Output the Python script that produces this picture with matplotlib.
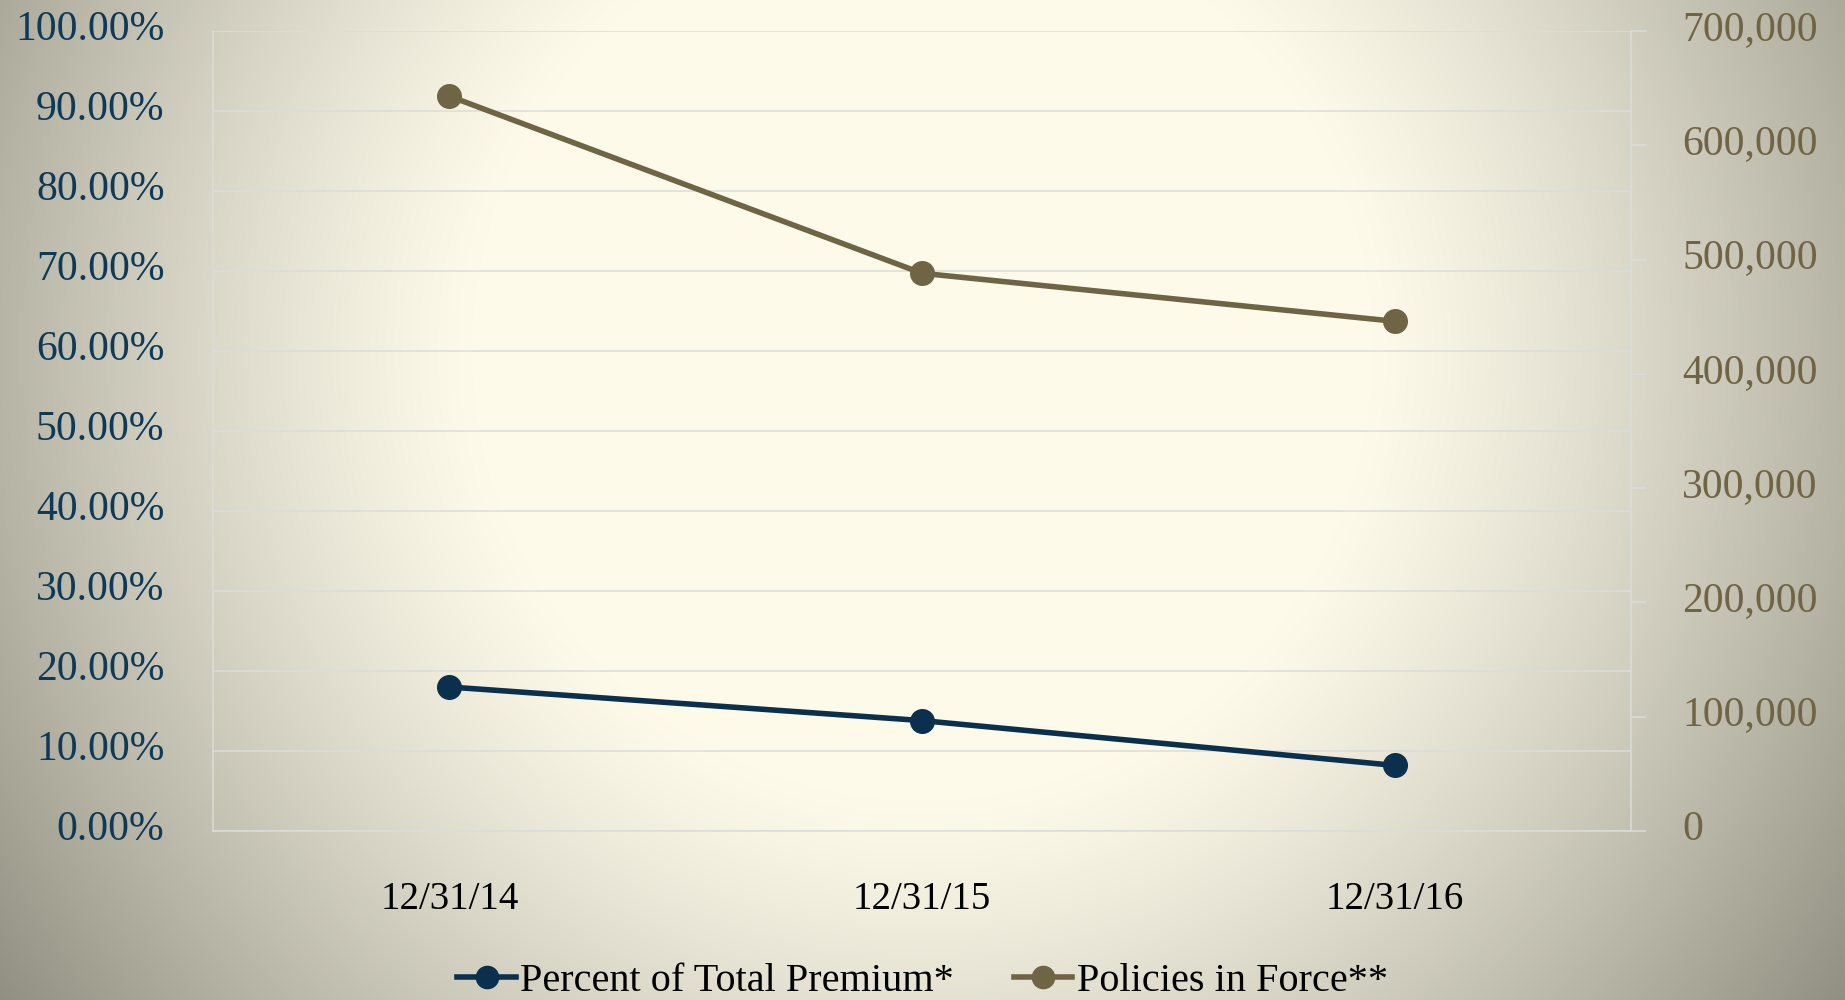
import numpy as np
import matplotlib
matplotlib.use("Agg")
import matplotlib.pyplot as plt
import matplotlib.transforms as mtransforms
from matplotlib.ticker import FuncFormatter, MultipleLocator
from matplotlib.lines import Line2D

# ---- data ----
dates = ["12/31/14", "12/31/15", "12/31/16"]
pct_total_premium = [18.0, 13.8, 8.2]          # percent
policies_in_force = [643000, 488000, 446000]
series_names = ["Percent of Total Premium*", "Policies in Force**"]

NAVY = "#0B304D"
OLIVE = "#6F6545"
NAVY_TXT = "#0E3A5A"
GRID = "#DCDCDA"

plt.rcParams["font.family"] = ["Liberation Serif", "DejaVu Serif"]

W, H = 1845, 1000
fig = plt.figure(figsize=(W / 100, H / 100), dpi=100)

# background radial glow (decorative)
yy, xx = np.mgrid[0:H, 0:W]
d = np.hypot(xx - 922, yy - 350)
t = np.clip((d - 450) / (1250 - 450), 0, 1) ** 1.2
cream = np.array([253, 250, 234]) / 255
dark = np.array([122, 120, 106]) / 255
bg = cream[None, None, :] * (1 - t[..., None]) + dark[None, None, :] * t[..., None]
bgax = fig.add_axes([0, 0, 1, 1], zorder=-10)
bgax.imshow(bg, aspect="auto", interpolation="bilinear")
bgax.set_axis_off()

left, right = 213 / W, 1631 / W
bottom, top = 1 - 831 / H, 1 - 31 / H
ax = fig.add_axes([left, bottom, right - left, top - bottom], zorder=1)
ax.set_facecolor("none")
ax2 = ax.twinx()
ax2.set_facecolor("none")
ax2.set_zorder(2)

x = np.arange(len(dates))
ax.plot(x, np.array(pct_total_premium) / 100, color=NAVY, lw=4.0,
        marker="o", ms=17, zorder=3, solid_capstyle="round")
ax2.plot(x, policies_in_force, color=OLIVE, lw=4.0,
         marker="o", ms=17, zorder=3, solid_capstyle="round")

ax.set_xlim(-0.5, len(dates) - 0.5)
ax.set_ylim(0, 1)
ax.yaxis.set_major_locator(MultipleLocator(0.1))
ax.yaxis.set_major_formatter(FuncFormatter(lambda v, p: f"{v*100:.2f}%"))
ax2.set_ylim(0, 700000)
ax2.yaxis.set_major_locator(MultipleLocator(100000))
ax2.yaxis.set_major_formatter(FuncFormatter(lambda v, p: f"{v:,.0f}"))

ax.set_xticks(x)
ax.set_xticklabels(dates)
ax.tick_params(axis="x", length=0, pad=36, labelsize=28, labelcolor="black")
ax.tick_params(axis="y", length=0, pad=35, labelsize=30, labelcolor=NAVY_TXT)
ax2.tick_params(axis="y", length=11, width=1.1, color=GRID, pad=26,
                labelsize=30, labelcolor=OLIVE)

# labels sit slightly above their gridlines in the reference
up = mtransforms.ScaledTranslation(0, 6 / 100, fig.dpi_scale_trans)
for lab in ax.get_yticklabels() + ax2.get_yticklabels():
    lab.set_transform(lab.get_transform() + up)

ax.grid(axis="y", color=GRID, lw=1.1, zorder=1)
ax.set_axisbelow(True)
for a in (ax, ax2):
    for s in a.spines.values():
        s.set_visible(False)
ax.spines["left"].set_visible(True)
ax.spines["left"].set_color(GRID)
ax.spines["left"].set_linewidth(1.1)
ax.spines["bottom"].set_visible(True)
ax.spines["bottom"].set_color(GRID)
ax.spines["bottom"].set_linewidth(1.1)
ax2.spines["right"].set_visible(True)
ax2.spines["right"].set_color(GRID)
ax2.spines["right"].set_linewidth(1.1)

handles = [
    Line2D([], [], color=NAVY, lw=4.0, marker="o", ms=16),
    Line2D([], [], color=OLIVE, lw=4.0, marker="o", ms=16),
]
fig.legend(handles, series_names, loc="center", bbox_to_anchor=(0.5, 0.019),
           ncol=2, frameon=False, fontsize=29, handlelength=1.45,
           handletextpad=0.1, columnspacing=1.5, labelcolor="black",
           borderaxespad=0, borderpad=0)

fig.savefig("out.png", dpi=100)
